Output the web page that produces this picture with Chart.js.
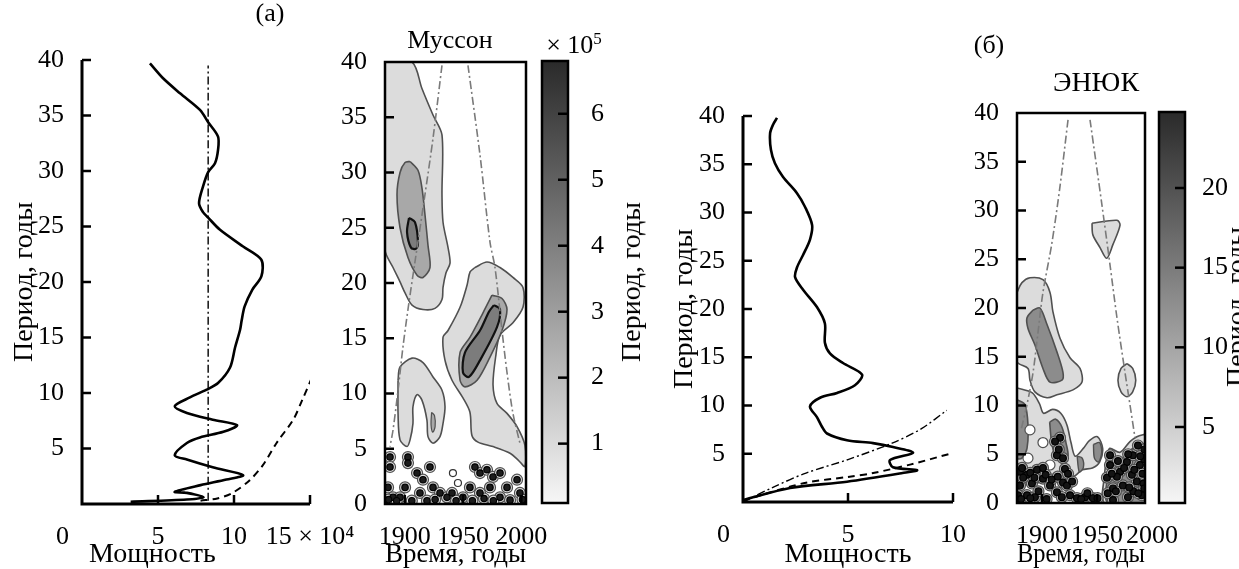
<!DOCTYPE html>
<html lang="ru">
<head>
<meta charset="utf-8">
<title>Муссон и ЭНЮК: глобальные и вейвлет-спектры</title>
<script src="https://cdn.jsdelivr.net/npm/chart.js@4.4.1/dist/chart.umd.min.js"></script>
<style>
  html, body { margin: 0; padding: 0; background: #fff; }
  body { width: 1239px; height: 569px; position: relative; overflow: hidden;
         font-family: "Liberation Serif", "Times New Roman", serif; color: #000; }
  .panel { position: absolute; top: 0; }
  .panel canvas { display: block; }
  .txt { position: absolute; font-size: 26px; line-height: 1; white-space: nowrap;
         transform: translate(-50%, -50%); }
  .txt.big { font-size: 28px; }
  .txt.vert { font-size: 28px; transform: translate(-50%, -50%) rotate(-90deg); }
  .txt sup { font-size: 17px; vertical-align: 9px; }
</style>
</head>
<body>
<div class="panel" style="left:0px"><canvas id="powerMonsoon" width="360" height="569"></canvas></div>
<div class="panel" style="left:300px"><canvas id="waveMonsoon" width="260" height="569"></canvas></div>
<div class="panel" style="left:540px"><canvas id="scaleMonsoon" width="80" height="569"></canvas></div>
<div class="panel" style="left:660px"><canvas id="powerEnso" width="320" height="569"></canvas></div>
<div class="panel" style="left:975px"><canvas id="waveEnso" width="230" height="569"></canvas></div>
<div class="panel" style="left:1155px"><canvas id="scaleEnso" width="84" height="569"></canvas></div>

<div class="txt" style="left:270px; top:13px">(а)</div>
<div class="txt" style="left:450px; top:40px">Муссон</div>
<div class="txt" style="left:574px; top:44px">× 10<sup>5</sup></div>
<div class="txt vert" style="left:631px; top:282px">Период, годы</div>
<div class="txt" style="left:989px; top:45px">(б)</div>
<div class="txt big" style="left:1096px; top:82px">ЭНЮК</div>
<div class="txt vert" style="left:1236px; top:307px">Период, годы</div>

<script>
// ---- global spectra: power (x) against period (y) ----
const monsoonPower  = [4.47, 5.3, 6.45, 7.76, 8.3, 8.95, 8.95, 8.75, 8.3, 7.96, 7.7, 7.96, 8.3, 9.08, 10.6, 11.8, 11.8, 11.2, 10.7, 10.5, 10.4, 10.07, 9.74, 8.95, 8.2, 7.1, 6.1, 6.9, 8.6, 10.2, 9.3, 7.76, 6.9, 6.1, 6.9, 8.6, 10.6, 9.5, 7.8, 6.1, 6.9, 8.0, 6.9, 3.2];
const monsoonPeriod = [39.7, 38.4, 37.0, 35.5, 34.4, 33.1, 31.9, 30.7, 29.9, 28.6, 27.1, 26.3, 25.8, 24.7, 23.2, 22.0, 20.5, 19.3, 17.8, 16.5, 15.7, 14.1, 12.3, 10.9, 10.3, 9.6, 8.8, 8.2, 7.6, 7.1, 6.5, 6.0, 5.5, 4.4, 4.0, 3.3, 2.6, 2.2, 1.7, 1.1, 1.0, 0.6, 0.4, 0.2];
const monsoonLevelPower  = [8.3, 8.3];
const monsoonLevelPeriod = [0.3, 39.5];
const monsoonNoisePower  = [7.8, 8.9, 9.9, 11.0, 11.9, 12.8, 13.9, 14.5, 15.1];
const monsoonNoisePeriod = [0.3, 0.5, 1.0, 2.1, 3.5, 5.5, 7.6, 9.4, 11.3];

const ensoPower  = [1.62, 1.43, 1.29, 1.33, 1.52, 1.9, 2.57, 2.95, 3.29, 3.19, 2.86, 2.57, 2.48, 2.86, 3.52, 3.9, 3.9, 4.14, 4.76, 5.67, 5.33, 4.48, 3.67, 3.19, 3.52, 3.76, 4.0, 4.95, 6.19, 7.14, 8.1, 7.0, 7.14, 8.29, 7.6, 4.95, 2.24, 0];
const ensoPeriod = [39.8, 39.1, 38.2, 36.5, 35.1, 33.7, 32.0, 30.6, 28.7, 27.2, 25.6, 24.3, 23.3, 22.0, 20.2, 18.5, 16.5, 15.4, 14.4, 13.2, 12.1, 11.3, 10.8, 9.9, 8.8, 7.8, 7.1, 6.4, 6.1, 5.7, 5.1, 4.35, 3.6, 3.3, 3.0, 2.1, 1.45, 0.2];
const ensoNoisePower  = [0, 1, 3, 5, 6.2, 8, 9.86];
const ensoNoisePeriod = [0.1, 0.8, 2.0, 2.6, 3.0, 3.9, 5.0];
const ensoLevelPower  = [0, 1.5, 3, 5, 7.1, 8.5, 9.7];
const ensoLevelPeriod = [0, 1.6, 3.0, 4.4, 6.1, 7.6, 9.5];

// ---- wavelet power contours, [year, period] outlines ----
const monsoonWestOuter = [[1883,40],[1906.2,40],[1914.7,37.6],[1924.2,35.2],[1931.9,33.4],[1931.9,28.0],[1932.8,25.5],[1937.1,23.2],[1938.8,21.8],[1935.3,20.9],[1932.8,19.6],[1931.9,18.5],[1925.9,17.7],[1915.6,17.6],[1906.2,18.0],[1900.2,19.1],[1895.9,20.1],[1889.9,21.4],[1883,23.0],[1883,40]];
const monsoonWestMid = [[1904.5,31.0],[1911.3,30.2],[1914.7,28.6],[1917.3,26.2],[1919.9,23.4],[1921.6,21.4],[1915.6,20.5],[1910.5,20.7],[1902.7,22.3],[1895.9,25.0],[1893.3,28.0],[1895.9,30.0],[1900.2,30.9],[1904.5,31.0]];
const monsoonWestCore = [[1903.6,25.9],[1908.7,25.5],[1911.3,23.7],[1909.6,23.1],[1905.3,23.2],[1901.9,24.6],[1903.6,25.9]];
const monsoonEastOuter = [[1960.2,21.4],[1970.5,21.9],[1981.7,21.4],[1992.8,20.5],[2001.4,19.6],[2001.4,17.8],[1992.8,16.4],[1981.7,15.3],[1978.2,13.5],[1975.7,10.8],[1979.1,9.1],[1987.7,8.2],[1996.3,7.0],[2003.1,5.3],[2003.1,3.4],[1997.1,4.0],[1990.3,4.6],[1975.7,5.2],[1962.8,5.6],[1957.6,6.2],[1955.9,8.3],[1949.9,9.6],[1940.5,11.2],[1934.5,13.0],[1932.8,15.1],[1937.1,15.7],[1947.4,17.8],[1953.4,19.8],[1956.0,21.0],[1960.2,21.4]];
const monsoonEastMid = [[1974.8,18.9],[1983.4,18.6],[1987.7,17.6],[1983.4,15.7],[1973.1,13.3],[1962.0,11.2],[1951.6,10.6],[1947.4,11.2],[1947.4,13.7],[1956.0,15.1],[1967.1,17.3],[1974.8,18.9]];
const monsoonEastCore = [[1976.5,18.0],[1981.7,17.6],[1979.1,16.0],[1964.5,13.0],[1955.1,11.5],[1949.9,11.9],[1951.6,13.7],[1964.5,15.7],[1972.2,17.4],[1976.5,18.0]];
const monsoonArch = [[1894.2,11.2],[1895.9,12.4],[1906.2,13.2],[1915.6,12.8],[1924.2,11.5],[1931.9,10.3],[1934.5,8.8],[1932.8,7.3],[1930.2,6.1],[1924.2,5.5],[1919.9,6.1],[1919.0,7.6],[1914.7,9.4],[1910.5,9.9],[1907.0,8.8],[1907.0,7.3],[1904.5,5.8],[1901.9,5.2],[1895.9,5.8],[1894.2,8.2],[1894.2,11.2]];
const monsoonArchSpot = [[1923,8.3],[1925.5,8.0],[1926,7.0],[1924,6.5],[1922.5,7.2],[1923,8.3]];
const monsoonConeWest = [[1931.9,39.7],[1924.2,33.1],[1917.3,28.0],[1908.7,21.9],[1902.7,17.6],[1898.4,14.2],[1894.2,10.3],[1889.9,6.7],[1887.3,5.2]];
const monsoonConeEast = [[1954.2,39.7],[1964.5,31.6],[1973.1,23.7],[1977.4,21.4],[1983.4,15.7],[1987.7,11.9],[1992.8,8.2],[1998.8,5.5]];
const monsoonSpeckle = [[1887.3,4.25],[1887.3,3.35],[1885.6,1.5],[1889.9,0.6],[1902.7,4.25],[1902.7,3.7],[1910.5,2.8],[1915.6,2.2],[1921.6,3.35],[1924.2,1.5],[1930.2,1.0],[1913.0,1.0],[1900.2,1.5],[1895.9,0.6],[1936.2,0.6],[1940.5,1.0],[1960.2,3.35],[1964.5,2.8],[1970.5,3.1],[1975.7,2.45],[1981.7,2.8],[1973.1,1.5],[1964.5,1.0],[1955.9,1.5],[1987.7,1.5],[1996.3,2.2],[1998.8,1.0],[1981.7,0.6],[1949.9,0.6],[1990.3,0.35],[1886,0.4],[1893,0.3],[1906,0.3],[1919,0.3],[1926,0.4],[1944,0.3],[1958,0.3],[1968,0.5],[1976,0.3],[2001,0.4]];
const monsoonRings = [[1941.3,2.8],[1945.6,1.9]];

const ensoWestOuter = [[1877.3,21.6],[1881.8,22.6],[1889.1,23.1],[1900.9,22.9],[1907.3,21.6],[1910.0,19.6],[1916.4,16.9],[1925.5,14.9],[1934.6,13.8],[1936.4,12.4],[1928.2,11.6],[1913.6,11.1],[1904.6,10.8],[1893.6,11.4],[1889.1,12.6],[1887.3,13.8],[1877.3,14.5],[1877.3,21.6]];
const ensoWestMid = [[1891.9,19.8],[1898.2,20.0],[1904.6,18.3],[1913.6,15.5],[1919.1,13.4],[1918.2,12.6],[1907.3,12.4],[1900.9,13.8],[1893.6,16.2],[1887.3,17.9],[1886.4,19.0],[1891.9,19.8]];
const ensoLowOuter = [[1877.3,11.8],[1891.2,11.3],[1897.7,10.2],[1901.4,9.2],[1909.8,9.6],[1917.1,9.2],[1922.7,8.0],[1926.4,6.2],[1930.2,4.8],[1937.6,5.6],[1943.1,6.4],[1950.5,6.8],[1955.2,5.6],[1952.4,4.2],[1945.9,3.6],[1936.6,3.4],[1930.2,2.8],[1922.7,2.5],[1904.2,2.2],[1877.3,2.2],[1877.3,11.8]];
const ensoEdgeMid = [[1877.3,10.6],[1884.5,10.1],[1887.3,8.0],[1886.4,5.6],[1881.8,4.6],[1877.3,4.6],[1877.3,10.6]];
const ensoLowMidA = [[1907.0,8.3],[1912.5,8.6],[1918.1,7.8],[1921.8,6.2],[1923.7,4.8],[1919.0,4.2],[1912.5,4.8],[1908.8,6.2],[1907.0,8.3]];
const ensoLowMidB = [[1946.8,6.0],[1952.4,6.2],[1954.3,5.2],[1951.5,4.2],[1947.7,4.6],[1946.8,6.0]];
const ensoLowMidC = [[1932.0,4.8],[1936.6,4.6],[1937.6,3.6],[1933.9,3.2],[1932.0,4.8]];
const ensoPatch28 = [[1945.5,28.7],[1968.2,29.0],[1971.0,28.5],[1964.5,26.5],[1958.9,25.1],[1952.8,26.2],[1946.3,27.5],[1945.5,28.7]];
const ensoPatch13 = [[1977.3,14.3],[1982.5,13.8],[1985.3,12.6],[1982.5,11.4],[1977.3,10.9],[1971.9,11.4],[1969.1,12.6],[1971.9,13.8],[1977.3,14.3]];
const ensoEastOuter = [[1959.1,4.9],[1961.7,5.6],[1971.0,5.2],[1980.0,6.3],[1986.3,6.8],[1991.8,7.0],[1994,7.0],[1994,0],[1957.0,0],[1957.0,3],[1959.1,4.9]];
const ensoEastMid = [[1961.7,4.2],[1971.0,4.4],[1980.2,5.4],[1987.6,6.0],[1994,6.0],[1994,0],[1959.8,0],[1959.8,3],[1961.7,4.2]];
const ensoConeWest = [[1923.7,39.3],[1916.2,32.3],[1908.8,26.5],[1900.9,21.6],[1896.4,17.5],[1891.9,13.4],[1886.4,10.1],[1881.0,7.5]];
const ensoConeEast = [[1943.7,39.3],[1954.5,30.6],[1961.9,24.4],[1968.2,19.0],[1975.5,13.4],[1980.0,10.1],[1984.6,6.7]];
const ensoHoles = [[1889.1,7.5],[1900.9,6.2],[1887.3,4.6],[1907.3,3.9]];
const ensoSpeckle = [[1880.0,3.2],[1886.4,2.9],[1895.5,3.4],[1880.0,1.8],[1890.9,2.0],[1900.9,2.5],[1913.6,4.9],[1916.4,6.7],[1911.9,6.3],[1919.1,4.6],[1907.3,1.8],[1919.1,2.1],[1878.2,0.8],[1886.4,0.8],[1893.6,0.6],[1913.6,1.1],[1922.7,1.8],[1925.5,0.8],[1931.8,0.5],[1939.2,0.6],[1946.3,0.5],[1961.9,3.9],[1959.1,2.6],[1964.6,1.5],[1971.0,3.2],[1977.3,4.2],[1982.7,4.9],[1987.3,5.9],[1989.1,3.9],[1986.3,2.2],[1973.6,1.8],[1978.2,0.6],[1964.6,0.3],[1990.9,0.8],[1968.2,2.7],[1981.8,2.9],[1961.9,4.9],[1900.9,3.6],[1915.3,5.5],[1920.9,3.5],[1896.8,1.2],[1882.9,2.6],[1992.3,2.0],[1993.0,4.5],[1983.0,1.2],[1881.9,3.6],[1889.4,3.1],[1893.1,2.6],[1903.3,2.9],[1908.8,2.4],[1914.4,2.7],[1923.7,3.0],[1927.4,2.2],[1881.0,0.4],[1889.4,0.5],[1904.2,0.4],[1918.1,0.6],[1935.7,0.4],[1941.3,1.0],[1950.5,0.5],[1959.8,1.0],[1967.2,1.2],[1974.7,3.6],[1979.3,1.6],[1983.9,3.4],[1987.6,1.0],[1991.4,3.0],[1993.2,5.5],[1993.0,1.5],[1963.5,3.0],[1969.1,4.3],[1978.4,5.0],[1989.5,4.8]];

// ---- axis ticks and ranges ----
const periodTicksLine = [5, 10, 15, 20, 25, 30, 35, 40];
const periodTicksBox = [0, 5, 10, 15, 20, 25, 30, 35, 40];
const monsoonPowerTicks = [0, 5, 10, 15];
const ensoPowerTicks = [0, 5, 10];
const yearTicks = [1900, 1950, 2000];
const monsoonYears = [1883, 2004];
const ensoYears = [1877.3, 1993.7];
const monsoonScaleTicks = [1, 2, 3, 4, 5, 6];
const ensoScaleTicks = [5, 10, 15, 20];
const monsoonScaleRange = [0.1, 6.8];
const ensoScaleRange = [0.23, 24.77];

const FONT = '"Liberation Serif", "Times New Roman", serif';
Chart.defaults.font.family = FONT;
Chart.defaults.font.size = 26;
Chart.defaults.color = '#000';
Chart.defaults.animation = false;
Chart.defaults.plugins.legend.display = false;
Chart.defaults.plugins.tooltip.enabled = false;

const LIGHT = '#dcdcdc', MID = '#a8a8a8', DARK = '#7c7c7c', EDGE = '#505050', ENSO_MID = '#8c8c8c';

// axis lines (or a full frame) with tick marks pointing into the plot
const frame = {
  id: 'frame',
  afterDatasetsDraw(chart, args, opts) {
    const {ctx, chartArea: a} = chart;
    ctx.save();
    ctx.strokeStyle = '#000';
    ctx.lineWidth = opts.lineWidth;
    ctx.beginPath();
    if (opts.box) {
      ctx.rect(a.left, a.top, a.right - a.left, a.bottom - a.top);
    } else {
      ctx.moveTo(a.left, a.top);
      ctx.lineTo(a.left, a.bottom);
      ctx.lineTo(a.right, a.bottom);
    }
    ctx.stroke();
    ctx.lineWidth = 2.5;
    for (const scale of Object.values(chart.scales)) {
      if (!scale.options.display) continue;
      scale.ticks.forEach((t, i) => {
        const p = scale.getPixelForTick(i);
        ctx.beginPath();
        if (scale.isHorizontal()) {
          if (p < a.left + 2 || p > a.right + 1 || (opts.box && p > a.right - 2)) return;
          ctx.moveTo(p, a.bottom);
          ctx.lineTo(p, a.bottom - opts.tick);
        } else {
          if (p > a.bottom - 2 || (opts.box && p < a.top + 2)) return;
          const x0 = scale.position === 'right' ? a.right : a.left;
          const dir = scale.position === 'right' ? -1 : 1;
          ctx.moveTo(x0, p);
          ctx.lineTo(x0 + dir * opts.tick, p);
        }
        ctx.stroke();
      });
    }
    ctx.restore();
  }
};

const pairs = (xs, ys) => xs.map((x, i) => [x, ys[i]]);
const fixedTicks = values => scale => { scale.ticks = values.map(value => ({value})); };
const fixedWidth = w => scale => { scale.width = w; scale.paddingTop = scale.paddingBottom = 0; };
const fixedHeight = h => scale => { scale.height = h; scale.paddingLeft = scale.paddingRight = 0; };

const area = (data, fill, stroke, width, order) => ({
  data, showLine: true, fill: 'shape', backgroundColor: fill, borderColor: stroke,
  borderWidth: width, pointRadius: 0, tension: 0.3, order
});
const trace = (data, color, width, dash, order) => ({
  data, showLine: true, fill: false, borderColor: color, borderWidth: width,
  borderDash: dash, pointRadius: 0, tension: 0.3, order
});
const dots = (data, fill, stroke, radius, order) => ({
  data, showLine: false, pointRadius: radius, pointBackgroundColor: fill,
  pointBorderColor: stroke, pointBorderWidth: 1.2, order
});

const titleFont = {size: 28, lineHeight: 1.2};
const bottomTitle = (text, align) => ({
  display: true, text, align, padding: {top: 0, bottom: 1}, font: {size: 28, lineHeight: 0.95}
});

function powerChart(id, cfg) {
  return new Chart(document.getElementById(id), {
    type: 'scatter',
    data: {datasets: cfg.datasets},
    options: {
      responsive: false,
      devicePixelRatio: 1,
      layout: {padding: {left: 0, top: cfg.top, right: cfg.right, bottom: 0}},
      scales: {
        x: {
          min: 0, max: cfg.xMax,
          afterBuildTicks: fixedTicks(cfg.xTicks),
          afterFit: fixedHeight(cfg.xHeight),
          grid: {display: false}, border: {display: false},
          ticks: {padding: 10, autoSkip: false, maxRotation: 0, callback: cfg.xLabel},
          title: bottomTitle(cfg.xTitle, cfg.xTitleAlign)
        },
        y: {
          min: 0, max: 40,
          afterBuildTicks: fixedTicks(periodTicksLine),
          afterFit: fixedWidth(cfg.yWidth),
          grid: {display: false}, border: {display: false},
          ticks: {padding: 10, autoSkip: false},
          title: {display: true, text: 'Период, годы', padding: {top: 8, bottom: 0}, font: titleFont}
        }
      },
      plugins: {frame: {box: false, lineWidth: 3, tick: 9}}
    },
    plugins: [frame]
  });
}

function waveChart(id, cfg) {
  return new Chart(document.getElementById(id), {
    type: 'scatter',
    data: {datasets: cfg.datasets},
    options: {
      responsive: false,
      devicePixelRatio: 1,
      layout: {padding: {left: 0, top: cfg.top, right: cfg.right, bottom: 0}},
      scales: {
        x: {
          min: cfg.years[0], max: cfg.years[1],
          afterBuildTicks: fixedTicks(yearTicks),
          afterFit: fixedHeight(cfg.xHeight),
          grid: {display: false}, border: {display: false},
          ticks: {padding: 10, autoSkip: false, maxRotation: 0, callback: v => String(v)},
          title: bottomTitle('Время, годы', cfg.xTitleAlign)
        },
        y: {
          min: 0, max: 40,
          afterBuildTicks: fixedTicks(periodTicksBox),
          afterFit: fixedWidth(cfg.yWidth),
          grid: {display: false}, border: {display: false},
          ticks: {padding: 10, autoSkip: false}
        }
      },
      plugins: {frame: {box: true, lineWidth: 2.5, tick: 9}}
    },
    plugins: [frame]
  });
}

// vertical shade bar: white at the bottom, near-black at the top
function shade(context) {
  const {chart} = context;
  const a = chart.chartArea;
  if (!a) return '#888';
  const g = chart.ctx.createLinearGradient(0, a.bottom, 0, a.top);
  g.addColorStop(0, '#f6f6f6');
  g.addColorStop(1, '#2a2a2a');
  return g;
}

function scaleChart(id, range, ticks, cfg) {
  return new Chart(document.getElementById(id), {
    type: 'bar',
    data: {labels: [''], datasets: [{data: [range], backgroundColor: shade, borderWidth: 0,
      barPercentage: 1, categoryPercentage: 1}]},
    options: {
      responsive: false,
      devicePixelRatio: 1,
      layout: {padding: {left: cfg.left, top: cfg.top, right: 0, bottom: cfg.bottom}},
      scales: {
        x: {display: false},
        y: {
          position: 'right', min: range[0], max: range[1],
          afterBuildTicks: fixedTicks(ticks),
          afterFit: fixedWidth(cfg.yWidth),
          grid: {display: false}, border: {display: false},
          ticks: {padding: cfg.pad, autoSkip: false}
        }
      },
      plugins: {frame: {box: true, lineWidth: 2.5, tick: 10}}
    },
    plugins: [frame]
  });
}

const DASHDOT = [8, 3, 2, 3];

powerChart('powerMonsoon', {
  top: 60, right: 50, yWidth: 82, xHeight: 65, xMax: 15,
  xTicks: monsoonPowerTicks, xTitle: ' Мощность', xTitleAlign: 'start',
  xLabel: v => v === 0 ? '0\u2003\u2002' : v === 15 ? '15 × 10⁴' : String(v),
  datasets: [
    trace(pairs(monsoonPower, monsoonPeriod), '#000', 2.6, [], 1),
    trace(pairs(monsoonLevelPower, monsoonLevelPeriod), '#000', 1.4, DASHDOT, 2),
    trace(pairs(monsoonNoisePower, monsoonNoisePeriod), '#000', 2, [7, 5], 2)
  ]
});

waveChart('waveMonsoon', {
  top: 62, right: 34, yWidth: 85, xHeight: 65, years: monsoonYears, xTitleAlign: 'center',
  datasets: [
    area(monsoonWestOuter, LIGHT, EDGE, 1.6, 9),
    area(monsoonEastOuter, LIGHT, EDGE, 1.6, 9),
    area(monsoonArch, LIGHT, EDGE, 1.6, 9),
    area(monsoonWestMid, MID, EDGE, 1.6, 8),
    area(monsoonEastMid, MID, EDGE, 1.6, 8),
    area(monsoonArchSpot, MID, EDGE, 1.2, 8),
    area(monsoonWestCore, DARK, '#111', 2.2, 7),
    area(monsoonEastCore, DARK, '#111', 2.2, 7),
    dots(monsoonSpeckle, LIGHT, EDGE, 5.5, 6),
    dots(monsoonSpeckle, '#1c1c1c', '#000', 3.2, 5),
    dots(monsoonRings, 'rgba(255,255,255,0)', '#333', 3.5, 5),
    trace(monsoonConeWest, '#7a7a7a', 1.6, DASHDOT, 1),
    trace(monsoonConeEast, '#7a7a7a', 1.6, DASHDOT, 1)
  ]
});

scaleChart('scaleMonsoon', monsoonScaleRange, monsoonScaleTicks,
  {left: 2, top: 61, bottom: 66, yWidth: 52, pad: 15});

powerChart('powerEnso', {
  top: 116, right: 27, yWidth: 83, xHeight: 67, xMax: 10,
  xTicks: ensoPowerTicks, xTitle: 'Мощность', xTitleAlign: 'center',
  xLabel: v => v === 0 ? '0\u2003\u2002' : String(v),
  datasets: [
    trace(pairs(ensoPower, ensoPeriod), '#000', 2.6, [], 1),
    trace(pairs(ensoNoisePower, ensoNoisePeriod), '#000', 2, [7, 5], 2),
    trace(pairs(ensoLevelPower, ensoLevelPeriod), '#000', 1.4, DASHDOT, 2)
  ]
});

waveChart('waveEnso', {
  top: 113, right: 60, yWidth: 42, xHeight: 66, years: ensoYears, xTitleAlign: 'start',
  datasets: [
    area(ensoWestOuter, LIGHT, EDGE, 1.6, 9),
    area(ensoLowOuter, LIGHT, EDGE, 1.6, 9),
    area(ensoPatch28, LIGHT, EDGE, 1.6, 9),
    area(ensoPatch13, LIGHT, EDGE, 1.6, 9),
    area(ensoEastOuter, LIGHT, EDGE, 1.6, 9),
    area(ensoWestMid, ENSO_MID, EDGE, 1.6, 8),
    area(ensoEdgeMid, ENSO_MID, EDGE, 1.6, 8),
    area(ensoLowMidA, ENSO_MID, EDGE, 1.6, 8),
    area(ensoLowMidB, ENSO_MID, EDGE, 1.4, 8),
    area(ensoLowMidC, ENSO_MID, EDGE, 1.4, 8),
    area(ensoEastMid, ENSO_MID, EDGE, 1.4, 8),
    dots(ensoHoles, '#fff', EDGE, 5, 7),
    dots(ensoSpeckle, '#bdbdbd', EDGE, 5.5, 6),
    dots(ensoSpeckle, '#141414', '#000', 3.4, 5),
    trace(ensoConeWest, '#7a7a7a', 1.6, DASHDOT, 1),
    trace(ensoConeEast, '#7a7a7a', 1.6, DASHDOT, 1)
  ]
});

scaleChart('scaleEnso', ensoScaleRange, ensoScaleTicks,
  {left: 4, top: 112, bottom: 66, yWidth: 54, pad: 9});
</script>
</body>
</html>
